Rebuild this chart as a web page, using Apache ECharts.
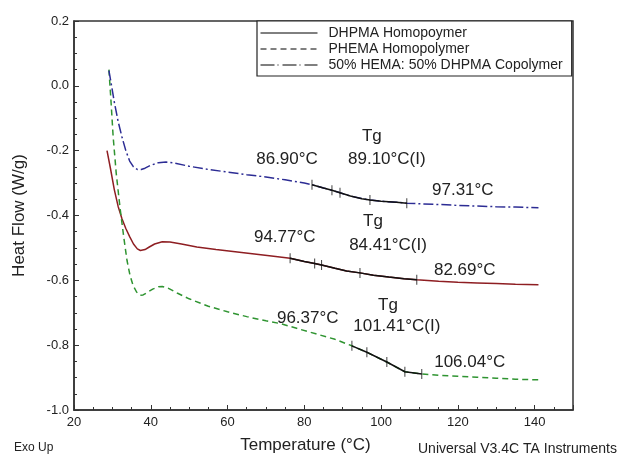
<!doctype html>
<html>
<head>
<meta charset="utf-8">
<title>DSC Tg</title>
<script src="https://cdn.jsdelivr.net/npm/echarts@6/dist/echarts.min.js"></script>
<style>
    html,body{
        margin: 0;
        width: 100%;
        height: 100%;
        background: #fff;
    }
    #dsc_chart{
        width: 622px;
        height: 459px;
    }
</style>
</head>
<body>
    <div id="dsc_chart"></div>
<script>
    // curve readings: temperature (°C) / heat flow (W/g)
    var dhpmaT = [28.6,29.5,30.5,31.5,32.5,33.5,34.5,35.5,36.5,37.3,38.5,39.5,41,43,45,48,52,57,62,67,72,76.3,80,82.7,84.5,88,91,94.5,98,102,106,109.3,115,120,125,130,135,141];
    var dhpmaV = [-0.200,-0.255,-0.320,-0.372,-0.410,-0.440,-0.465,-0.488,-0.503,-0.508,-0.505,-0.498,-0.488,-0.481,-0.482,-0.488,-0.497,-0.505,-0.512,-0.519,-0.526,-0.532,-0.542,-0.548,-0.553,-0.563,-0.571,-0.577,-0.584,-0.590,-0.595,-0.598,-0.603,-0.606,-0.608,-0.610,-0.612,-0.614];

    var phemaT = [29.1,29.6,30.2,31,32,33,33.8,34.6,35.4,36.3,37.2,38,39,40.5,42,43,44.5,47,50,55,60,65,70,73.6,78,83,88,92.4,96.3,101.5,106.2,110.6,115,120,125,130,135,141];
    var phemaV = [0.050,-0.040,-0.157,-0.270,-0.377,-0.470,-0.538,-0.585,-0.616,-0.636,-0.646,-0.645,-0.638,-0.627,-0.620,-0.619,-0.624,-0.640,-0.657,-0.680,-0.697,-0.712,-0.725,-0.733,-0.748,-0.765,-0.782,-0.802,-0.822,-0.852,-0.882,-0.889,-0.893,-0.896,-0.899,-0.902,-0.905,-0.907];

    var copoT = [29.1,29.5,30.5,31.5,32.5,33.5,34.5,35.5,36.5,37.5,38.5,40,42,44,46,50,55,60,65,70,75,80,82,85,87.2,89.3,92,95,97.1,100,104,106.7,110,115,120,125,130,135,141];
    var copoV = [0.047,0.020,-0.050,-0.110,-0.158,-0.200,-0.232,-0.250,-0.258,-0.258,-0.254,-0.245,-0.237,-0.235,-0.238,-0.248,-0.258,-0.266,-0.274,-0.281,-0.290,-0.300,-0.305,-0.315,-0.322,-0.330,-0.340,-0.348,-0.352,-0.356,-0.359,-0.362,-0.364,-0.366,-0.369,-0.371,-0.373,-0.374,-0.376];

    // analysis tick marks (limits, onset, inflection, end)
    var dhpmaTickT = [76.3,82.7,84.5,94.5,109.3];
    var phemaTickT = [92.4,96.3,101.5,106.2,110.6];
    var copoTickT  = [82,87.2,89.3,97.1,106.7];

    var seriesNames = ['DHPMA Homopoymer','PHEMA Homopolymer','50% HEMA: 50% DHPMA Copolymer'];

    // annotation labels: [text, T, heatflow]
    var copoNotes  = [['Tg',97.6,-0.157],['86.90°C',75.5,-0.226],['89.10°C(I)',101.5,-0.226],['97.31°C',121.3,-0.323]];
    var dhpmaNotes = [['Tg',97.9,-0.419],['94.77°C',74.9,-0.467],['84.41°C(I)',101.8,-0.493],['82.69°C',121.8,-0.568]];
    var phemaNotes = [['Tg',101.8,-0.676],['96.37°C',80.9,-0.718],['101.41°C(I)',104.1,-0.742],['106.04°C',123.1,-0.852]];

    function pairs(ts, vs){
        var out = [];
        for(var i=0;i<ts.length;i++){ out.push([ts[i], vs[i]]); }
        return out;
    }
    function valueAt(ts, vs, t){
        for(var i=0;i<ts.length;i++){
            if(ts[i] === t) return vs[i];
        }
        return null;
    }
    function tickPoints(ts, vs, ticks){
        return ticks.map(function(t){ return [t, valueAt(ts, vs, t)]; });
    }
    function blackPart(ts, vs, ticks){
        var lo = ticks[0], hi = ticks[ticks.length-1];
        return pairs(ts, vs).filter(function(p){ return p[0] >= lo && p[0] <= hi; });
    }
    function notePoints(notes){
        return notes.map(function(n){
            return {
                coord:[n[1], n[2]],
                symbolSize:0,
                label:{show:true, formatter:n[0], position:'inside', color:'#222', fontSize:17, fontFamily:'Liberation Sans'}
            };
        });
    }

    var font = 'Liberation Sans';
    var noDot = {color:'rgba(0,0,0,0)', opacity:0, borderWidth:0};

    var option = {
        animation:false,
        backgroundColor:'#fff',
        grid:{
            left:74,
            right:49,
            top:21,
            bottom:38,
            show:true,
            borderColor:'#333',
            borderWidth:1.5
        },
        legend:{
            orient:'vertical',
            left:257,
            top:21,
            padding:[5,9,4,3],
            itemGap:2,
            itemWidth:57,
            itemHeight:10,
            borderColor:'#222',
            borderWidth:1.2,
            backgroundColor:'#fff',
            textStyle:{color:'#222', fontSize:14, fontFamily:font, padding:[0,0,0,6]},
            data:[
                {name:seriesNames[0], lineStyle:{color:'#000', width:1, type:'solid'}, itemStyle:noDot},
                {name:seriesNames[1], lineStyle:{color:'#000', width:1, type:[6,4]}, itemStyle:noDot},
                {name:seriesNames[2], lineStyle:{color:'#000', width:1, type:[14,3,1,4]}, itemStyle:noDot}
            ]
        },
        xAxis:{
            type:'value',
            min:20,
            max:150,
            interval:20,
            name:'Temperature (°C)',
            nameLocation:'middle',
            nameGap:27,
            nameTextStyle:{color:'#222', fontSize:17, fontFamily:font, padding:[0,36,0,0]},
            axisLine:{onZero:false, lineStyle:{color:'#333', width:1.5}},
            axisTick:{inside:true, length:5, lineStyle:{color:'#333'}},
            minorTick:{show:true, splitNumber:4, length:3, lineStyle:{color:'#333'}},
            axisLabel:{color:'#222', fontSize:13, fontFamily:font, margin:6, showMaxLabel:false},
            splitLine:{show:false}
        },
        yAxis:{
            type:'value',
            min:-1.0,
            max:0.2,
            interval:0.2,
            name:'Heat Flow (W/g)',
            nameLocation:'middle',
            nameGap:46,
            nameTextStyle:{color:'#222', fontSize:17, fontFamily:font},
            axisLine:{onZero:false, lineStyle:{color:'#333', width:1.5}},
            axisTick:{inside:true, length:5, lineStyle:{color:'#333'}},
            minorTick:{show:true, splitNumber:4, length:3, lineStyle:{color:'#333'}},
            axisLabel:{color:'#222', fontSize:13, fontFamily:font, margin:5,
                formatter:function(v){ return v.toFixed(1); }},
            splitLine:{show:false}
        },
        graphic:[
            {type:'text', left:14, top:442, style:{text:'Exo Up', fill:'#222', fontSize:12, fontFamily:font}},
            {type:'text', left:418, top:442, style:{text:'Universal V3.4C TA Instruments', fill:'#222', fontSize:14, fontFamily:font}}
        ],
        series:[
            {
                name:seriesNames[0], type:'line', symbol:'none', z:2,
                lineStyle:{color:'#8e1e22', width:1.5, type:'solid'},
                itemStyle:{color:'#8e1e22'},
                data:pairs(dhpmaT, dhpmaV),
                markPoint:{symbol:'circle', data:notePoints(dhpmaNotes)}
            },
            {
                name:seriesNames[1], type:'line', symbol:'none', z:2,
                lineStyle:{color:'#2f9431', width:1.5, type:[6,4]},
                itemStyle:{color:'#2f9431'},
                data:pairs(phemaT, phemaV),
                markPoint:{symbol:'circle', data:notePoints(phemaNotes)}
            },
            {
                name:seriesNames[2], type:'line', symbol:'none', z:2,
                lineStyle:{color:'#2c2c94', width:1.5, type:[10,3,2,3]},
                itemStyle:{color:'#2c2c94'},
                data:pairs(copoT, copoV),
                markPoint:{symbol:'circle', data:notePoints(copoNotes)}
            },
            // analysed region drawn in black
            {type:'line', symbol:'none', z:3, silent:true, lineStyle:{color:'#111', width:1.5}, data:blackPart(dhpmaT, dhpmaV, dhpmaTickT)},
            {type:'line', symbol:'none', z:3, silent:true, lineStyle:{color:'#111', width:1.5}, data:blackPart(phemaT, phemaV, phemaTickT)},
            {type:'line', symbol:'none', z:3, silent:true, lineStyle:{color:'#111', width:1.5}, data:blackPart(copoT, copoV, copoTickT)},
            // tick marks
            {type:'scatter', symbol:'rect', symbolSize:[1,10], z:4, silent:true, itemStyle:{color:'#111'},
                data:tickPoints(dhpmaT, dhpmaV, dhpmaTickT).concat(tickPoints(phemaT, phemaV, phemaTickT), tickPoints(copoT, copoV, copoTickT))}
        ]
    };

    var dsc_chart = echarts.init(document.getElementById('dsc_chart'));
    dsc_chart.setOption(option);
</script>
</body>
</html>
